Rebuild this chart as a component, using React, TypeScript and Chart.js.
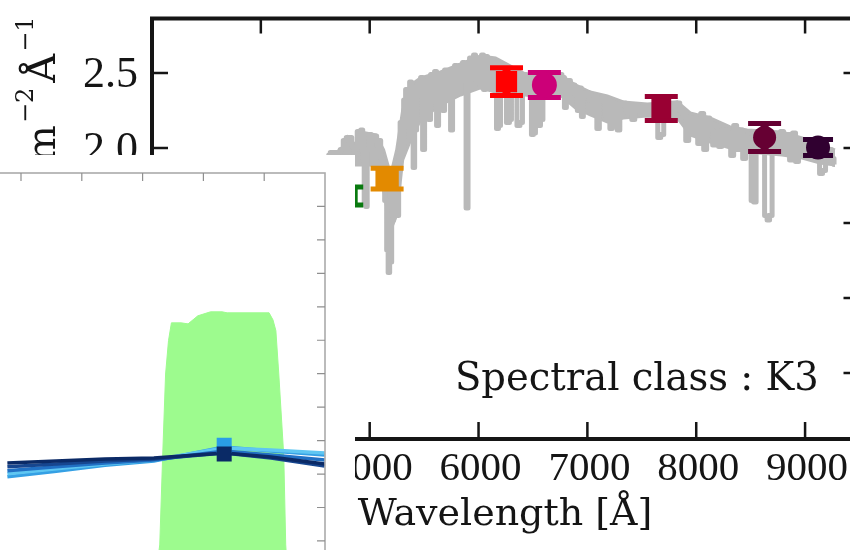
import React, { useEffect, useRef } from 'react';
import { Chart, registerables } from 'chart.js';

Chart.register(...registerables);

// ---------------- main panel data ----------------
// spectrum (absorption-line detail)
const SPEC_WAVE = [
  4605, 4670, 4716, 4743, 4771, 4798, 4826, 4844, 4862, 4881, 4890, 4908, 4927, 4945, 4954, 4972, 4982,
  5000, 5027, 5055, 5073, 5092, 5110, 5128, 5147, 5165, 5174, 5193, 5211, 5229, 5238, 5257, 5275, 5284,
  5303, 5321, 5339, 5358, 5376, 5394, 5404, 5422, 5440, 5459, 5477, 5495, 5514, 5532, 5550, 5569, 5587,
  5605, 5624, 5642, 5660, 5679, 5697, 5716, 5734, 5752, 5771, 5789, 5807, 5826, 5844, 5862, 5881, 5890,
  5899, 5908, 5927, 5945, 5963, 5982, 6000, 6018, 6037, 6055, 6073, 6092, 6110, 6128, 6156, 6174, 6193,
  6211, 6238, 6275, 6293, 6312, 6339, 6367, 6394, 6413, 6431, 6449, 6477, 6495, 6514, 6532, 6560, 6578,
  6605, 6642, 6679, 6715, 6752, 6780, 6798, 6816, 6835, 6853, 6871, 6899, 6917, 6936, 6954, 6972, 7000,
  7027, 7055, 7073, 7101, 7119, 7147, 7174, 7193, 7220, 7238, 7266, 7284, 7312, 7339, 7367, 7394, 7422,
  7449, 7486, 7523, 7559, 7596, 7633, 7660, 7688, 7715, 7761, 7807, 7835, 7862, 7890, 7917, 7945, 7972,
  8000, 8027, 8055, 8082, 8110, 8137, 8165, 8192, 8220, 8248, 8275, 8303, 8330, 8358, 8385, 8413, 8440,
  8468, 8495, 8514, 8541, 8559, 8587, 8614, 8642, 8660, 8688, 8706, 8734, 8761, 8789, 8816, 8844, 8871,
  8899, 8926, 8954, 8981, 9009, 9046, 9082, 9119, 9147, 9174, 9202, 9229, 9257, 9275,
];
const SPEC_FLUX = [
  1.95, 1.97, 1.97, 1.99, 2.05, 2.07, 2.07, 2.01, 1.95, 1.99, 2.11, 2.05, 2.12, 1.92, 1.62, 1.61, 1.99,
  2.09, 2.05, 2.08, 2.02, 2.05, 1.93, 1.89, 1.65, 1.32, 1.17, 1.24, 1.52, 1.79, 1.65, 1.55, 1.92, 2.17,
  1.99, 2.32, 2.39, 2.15, 2.44, 2.32, 1.87, 2.12, 2.42, 2.35, 2.47, 1.99, 2.25, 2.45, 2.19, 2.49, 2.32,
  2.51, 2.15, 2.42, 2.49, 2.25, 2.52, 2.35, 2.51, 2.12, 2.49, 2.55, 2.39, 2.55, 2.45, 2.57, 2.52, 1.60,
  1.60, 2.52, 2.60, 2.55, 2.62, 2.45, 2.60, 2.42, 2.62, 2.39, 2.61, 2.51, 2.59, 2.49, 2.42, 2.13, 2.15,
  2.45, 2.47, 2.17, 2.19, 2.47, 2.45, 2.15, 2.17, 2.45, 2.49, 2.39, 2.42, 2.09, 2.10, 2.42, 2.15, 2.19,
  2.42, 2.42, 2.40, 2.45, 2.49, 2.47, 2.27, 2.32, 2.45, 2.37, 2.42, 2.35, 2.25, 2.40, 2.21, 2.35, 2.37,
  2.32, 2.24, 2.35, 2.13, 2.32, 2.34, 2.22, 2.32, 2.13, 2.30, 2.25, 2.12, 2.29, 2.30, 2.24, 2.29, 2.19,
  2.28, 2.25, 2.27, 2.25, 2.27, 2.25, 2.07, 2.09, 2.25, 2.27, 2.29, 2.30, 2.25, 2.22, 2.05, 2.20, 2.13,
  2.19, 2.03, 2.23, 1.99, 2.20, 2.12, 2.02, 2.11, 2.01, 2.12, 2.04, 2.10, 1.95, 2.15, 1.99, 2.12, 1.93,
  2.07, 2.05, 1.65, 1.64, 1.99, 2.05, 2.02, 1.55, 1.52, 1.55, 2.02, 2.09, 2.09, 2.11, 1.99, 2.09, 1.92,
  2.10, 1.91, 2.05, 2.02, 1.99, 2.00, 1.99, 1.93, 1.83, 1.85, 1.92, 1.99, 1.93, 1.89,
];
// dense (blended-line) band of the spectrum: upper and lower edge
const BAND_WAVE = [
  4605, 4734, 4798, 4872, 4917, 5055, 5128, 5193, 5248, 5303, 5376, 5468, 5651, 5835, 6018, 6156, 6431,
  6614, 6752, 6890, 7027, 7183, 7330, 7550, 7826, 7945, 8128, 8312, 8468, 8789, 8972, 9137, 9275,
];
const BAND_TOP = [
  1.947, 1.987, 2.073, 2.02, 2.107, 2.087, 1.987, 1.82, 1.987, 2.253, 2.42, 2.467, 2.507, 2.56, 2.613, 2.6, 2.493,
  2.467, 2.487, 2.42, 2.373, 2.347, 2.307, 2.293, 2.307, 2.233, 2.2, 2.14, 2.12, 2.107, 2.067, 2.02, 1.987,
];
const BAND_BOTTOM = [
  1.92, 1.92, 1.92, 1.887, 1.887, 1.887, 1.72, 1.453, 1.553, 1.92, 2.053, 2.187, 2.287, 2.353, 2.4, 2.373, 2.353,
  2.333, 2.353, 2.267, 2.22, 2.173, 2.2, 2.213, 2.2, 2.087, 2.04, 2.0, 1.973, 1.953, 1.933, 1.9, 1.887,
];

const PHOT_WAVE = [4789, 5160, 6257, 6605, 7679, 8628, 9119];
const PHOT_FLUX = [1.68, 1.795, 2.442, 2.42, 2.263, 2.07, 2.003];
const PHOT_ERR = [0.06, 0.069, 0.092, 0.083, 0.08, 0.093, 0.053];
const PHOT_COLORS = ['#0a7a10', '#e38a00', '#ff0000', '#cc0078', '#990033', '#660033', '#300030'];
const PHOT_MARKERS = ['rect', 'rect', 'rect', 'circle', 'rect', 'circle', 'circle'];

const X_TICKS = [3000, 4000, 5000, 6000, 7000, 8000, 9000];
const X_TICK_LABELS = ['3000', '4000', '5000', '6000', '7000', '8000', '9000'];
const Y_TICKS = [0.5, 1.0, 1.5, 2.0, 2.5];
const Y_TICK_LABELS = ['0.5', '1.0', '1.5', '2.0', '2.5'];
const X_TITLE = 'Wavelength [Å]';
const ANNOTATION = 'Spectral class : K3';

// ---------------- inset data ----------------
const INSET_WAVE = [4388, 4790, 5191, 5593, 6171, 6556, 6998];
const MODEL_NAVY = [0.333, 0.339, 0.345, 0.348, 0.363, 0.351, 0.33];
const MODEL_NAVY2 = [0.322, 0.33, 0.339, 0.345, 0.363, 0.348, 0.324];
const MODEL_BLUE = [0.31, 0.322, 0.333, 0.342, 0.369, 0.357, 0.342];
const MODEL_LIGHT = [0.292, 0.308, 0.326, 0.339, 0.381, 0.369, 0.357];
const MODEL_CYAN = [0.301, 0.316, 0.33, 0.342, 0.378, 0.372, 0.363];
const FILTER_WAVE = [5609, 5641, 5665, 5689, 5713, 5737, 5817, 5874, 5954, 6058, 6155, 6195, 6540, 6572, 6596, 6620, 6661, 6677, 6693];
const FILTER_TRANS = [0.0, 0.088, 0.354, 0.599, 0.699, 0.752, 0.752, 0.749, 0.773, 0.785, 0.785, 0.782, 0.782, 0.761, 0.729, 0.599, 0.354, 0.088, 0.0];
const INSET_PHOT_WAVE = [6171, 6171];
const INSET_PHOT_FLUX = [0.386, 0.36];
const INSET_PHOT_COLORS = ['#2a9ee6', '#0a2a66'];
const INSET_X_TICKS = [4500, 5000, 5500, 6000, 6500];
const INSET_Y_TICKS = [0.1, 0.2, 0.3, 0.4, 0.5, 0.6, 0.7, 0.8, 0.9, 1.0, 1.1];

const xy = (xs: number[], ys: number[]) => xs.map((x, i) => ({ x, y: ys[i] }));

const SPEC_GRAY = '#b9b9b9';

const mainPlugin = {
  id: 'mainDecor',
  afterDatasetDraw(chart: any, args: any) {
    if (args.index !== 1) return;
    const { ctx } = chart;
    const xs = chart.scales.x;
    const ys = chart.scales.y;
    ctx.save();
    PHOT_WAVE.forEach((w, i) => {
      const px = xs.getPixelForValue(w);
      const yt = ys.getPixelForValue(PHOT_FLUX[i] + PHOT_ERR[i]);
      const yb = ys.getPixelForValue(PHOT_FLUX[i] - PHOT_ERR[i]);
      const hw = i === 6 ? 15 : 16.5;
      ctx.strokeStyle = PHOT_COLORS[i];
      ctx.lineWidth = 8;
      ctx.beginPath();
      ctx.moveTo(px, yt);
      ctx.lineTo(px, yb);
      ctx.stroke();
      ctx.lineWidth = 5;
      ctx.beginPath();
      ctx.moveTo(px - hw, yt);
      ctx.lineTo(px + hw, yt);
      ctx.moveTo(px - hw, yb);
      ctx.lineTo(px + hw, yb);
      ctx.stroke();
    });
    ctx.restore();
  },
  afterDraw(chart: any) {
    const { ctx, chartArea: a } = chart;
    const xs = chart.scales.x;
    const ys = chart.scales.y;
    const ink = '#151515';
    ctx.save();
    ctx.strokeStyle = ink;
    ctx.lineCap = 'butt';
    // frame
    ctx.lineWidth = 4;
    ctx.beginPath();
    ctx.moveTo(a.left, a.bottom);
    ctx.lineTo(a.left, a.top);
    ctx.lineTo(a.right, a.top);
    ctx.lineTo(a.right, a.bottom);
    ctx.lineTo(a.left, a.bottom);
    ctx.stroke();
    // ticks
    ctx.lineWidth = 2.5;
    ctx.beginPath();
    X_TICKS.forEach((v) => {
      const px = xs.getPixelForValue(v);
      ctx.moveTo(px, a.top);
      ctx.lineTo(px, a.top + 15);
      ctx.moveTo(px, a.bottom);
      ctx.lineTo(px, a.bottom - 17);
    });
    Y_TICKS.forEach((v) => {
      const py = ys.getPixelForValue(v);
      ctx.moveTo(a.left, py);
      ctx.lineTo(a.left + 16, py);
      ctx.moveTo(a.right, py);
      ctx.lineTo(a.right - 16, py);
    });
    ctx.stroke();
    // tick labels
    ctx.fillStyle = ink;
    ctx.textAlign = 'center';
    ctx.textBaseline = 'alphabetic';
    ctx.font = '41px "Liberation Serif"';
    X_TICKS.forEach((v, i) => {
      ctx.fillText(X_TICK_LABELS[i], xs.getPixelForValue(v) + 2, 480);
    });
    ctx.textAlign = 'right';
    ctx.font = '44px "Liberation Serif"';
    Y_TICKS.forEach((v, i) => {
      ctx.fillText(Y_TICK_LABELS[i], 138, ys.getPixelForValue(v) + 14.5);
    });
    // x title
    ctx.textAlign = 'center';
    ctx.font = '38px "DejaVu Serif"';
    ctx.fillText(X_TITLE, 505, 525);
    // annotation
    ctx.textAlign = 'left';
    ctx.font = '38.5px "DejaVu Serif"';
    ctx.fillText(ANNOTATION, 455, 390);
    // y title (visible part)
    ctx.translate(55, 163);
    ctx.rotate(-Math.PI / 2);
    ctx.textAlign = 'left';
    let t = 0;
    ctx.font = '40px "DejaVu Serif"';
    ctx.fillText('m', t, 0);
    t += ctx.measureText('m').width + 2;
    ctx.font = '24px "DejaVu Serif"';
    ctx.fillText('\u22122', t, -22);
    t += ctx.measureText('\u22122').width + 5;
    ctx.font = '40px "DejaVu Serif"';
    ctx.fillText('Å', t, 0);
    t += ctx.measureText('Å').width + 2;
    ctx.font = '24px "DejaVu Serif"';
    ctx.fillText('\u22121', t, -22);
    ctx.restore();
  },
};

const insetPlugin = {
  id: 'insetDecor',
  beforeDraw(chart: any) {
    const { ctx, width, height } = chart;
    ctx.save();
    ctx.fillStyle = '#ffffff';
    ctx.fillRect(0, 0, width, height);
    ctx.restore();
  },
  afterDraw(chart: any) {
    const { ctx, chartArea: a } = chart;
    const xs = chart.scales.x;
    const ys = chart.scales.y;
    ctx.save();
    ctx.strokeStyle = '#ababab';
    ctx.lineWidth = 1.6;
    ctx.strokeRect(a.left, a.top, a.right - a.left, a.bottom - a.top);
    ctx.strokeStyle = '#8f8f8f';
    ctx.lineWidth = 1.2;
    ctx.beginPath();
    INSET_X_TICKS.forEach((v) => {
      const px = xs.getPixelForValue(v);
      ctx.moveTo(px, a.top);
      ctx.lineTo(px, a.top + 8);
      ctx.moveTo(px, a.bottom);
      ctx.lineTo(px, a.bottom - 8);
    });
    INSET_Y_TICKS.forEach((v) => {
      const py = ys.getPixelForValue(v);
      ctx.moveTo(a.right, py);
      ctx.lineTo(a.right - 8, py);
      ctx.moveTo(a.left, py);
      ctx.lineTo(a.left + 8, py);
    });
    ctx.stroke();
    ctx.restore();
  },
};

export default function App() {
  const mainRef = useRef<HTMLCanvasElement>(null);
  const insetRef = useRef<HTMLCanvasElement>(null);

  useEffect(() => {
    const main = new Chart(mainRef.current as HTMLCanvasElement, {
      type: 'line',
      data: {
        datasets: [
          {
            label: 'photometry',
            data: xy(PHOT_WAVE, PHOT_FLUX),
            showLine: false,
            pointStyle: PHOT_MARKERS as any,
            pointRadius: [15.5, 16.5, 15, 12.5, 14, 11.5, 12],
            pointBackgroundColor: PHOT_COLORS,
            pointBorderColor: PHOT_COLORS,
            pointBorderWidth: 0,
            order: 0,
          } as any,
          {
            label: 'spectrum',
            data: xy(SPEC_WAVE, SPEC_FLUX),
            borderColor: SPEC_GRAY,
            borderWidth: 5,
            pointRadius: 0,
            tension: 0,
            stepped: 'middle',
            borderJoinStyle: 'round',
            order: 1,
          } as any,
          {
            label: 'band top',
            data: xy(BAND_WAVE, BAND_TOP),
            borderColor: SPEC_GRAY,
            backgroundColor: SPEC_GRAY,
            borderWidth: 3,
            pointRadius: 0,
            tension: 0,
            fill: '+1',
            order: 2,
          } as any,
          {
            label: 'band bottom',
            data: xy(BAND_WAVE, BAND_BOTTOM),
            borderColor: SPEC_GRAY,
            borderWidth: 3,
            pointRadius: 0,
            tension: 0,
            fill: false,
            order: 3,
          } as any,
        ],
      },
      options: {
        animation: false,
        responsive: false,
        devicePixelRatio: 1,
        events: [],
        layout: { padding: { left: 152, right: 40.5, top: 18.5, bottom: 111 } },
        scales: {
          x: { type: 'linear', min: 3000, max: 9500, display: false },
          y: { type: 'linear', min: 0.06, max: 2.863, display: false },
        },
        plugins: { legend: { display: false }, tooltip: { enabled: false } },
      },
      plugins: [mainPlugin],
    });

    const lineDs = (label: string, ys: number[], color: string, order: number) => ({
      label,
      data: xy(INSET_WAVE, ys),
      borderColor: color,
      borderWidth: 3.5,
      pointRadius: 0,
      tension: 0,
      fill: false,
      order,
    });

    const inset = new Chart(insetRef.current as HTMLCanvasElement, {
      type: 'line',
      data: {
        datasets: [
          {
            label: 'synthetic photometry',
            data: xy(INSET_PHOT_WAVE, INSET_PHOT_FLUX),
            showLine: false,
            pointStyle: 'rect',
            pointRadius: 10.6,
            pointBackgroundColor: INSET_PHOT_COLORS,
            pointBorderColor: INSET_PHOT_COLORS,
            pointBorderWidth: 0,
            order: 0,
          } as any,
          lineDs('model 1', MODEL_NAVY, '#0b2a66', 1),
          lineDs('model 2', MODEL_NAVY2, '#17468f', 2),
          lineDs('model 3', MODEL_BLUE, '#2170c4', 3),
          lineDs('model 4', MODEL_CYAN, '#5ec6f2', 4),
          lineDs('model 5', MODEL_LIGHT, '#35a0e4', 5),
          {
            label: 'filter',
            data: xy(FILTER_WAVE, FILTER_TRANS),
            borderColor: '#9dfb8e',
            backgroundColor: '#9dfb8e',
            borderWidth: 1,
            pointRadius: 0,
            tension: 0,
            fill: 'origin',
            order: 10,
          } as any,
        ],
      },
      options: {
        animation: false,
        responsive: false,
        devicePixelRatio: 1,
        events: [],
        layout: { padding: { left: 2.5, right: 30, top: 18, bottom: 5 } },
        scales: {
          x: { type: 'linear', min: 4250, max: 7000, display: false },
          y: { type: 'linear', min: 0, max: 1.2, display: false },
        },
        plugins: { legend: { display: false }, tooltip: { enabled: false } },
      },
      plugins: [insetPlugin],
    });

    return () => {
      main.destroy();
      inset.destroy();
    };
  }, []);

  return (
    <div
      style={{
        position: 'fixed',
        left: 0,
        top: 0,
        width: 850,
        height: 550,
        overflow: 'hidden',
        background: '#ffffff',
      }}
    >
      <canvas
        ref={mainRef}
        width={900}
        height={550}
        style={{ position: 'absolute', left: 0, top: 0, width: 900, height: 550 }}
      />
      <canvas
        ref={insetRef}
        width={375}
        height={430}
        style={{ position: 'absolute', left: -20, top: 155, width: 375, height: 430 }}
      />
    </div>
  );
}
